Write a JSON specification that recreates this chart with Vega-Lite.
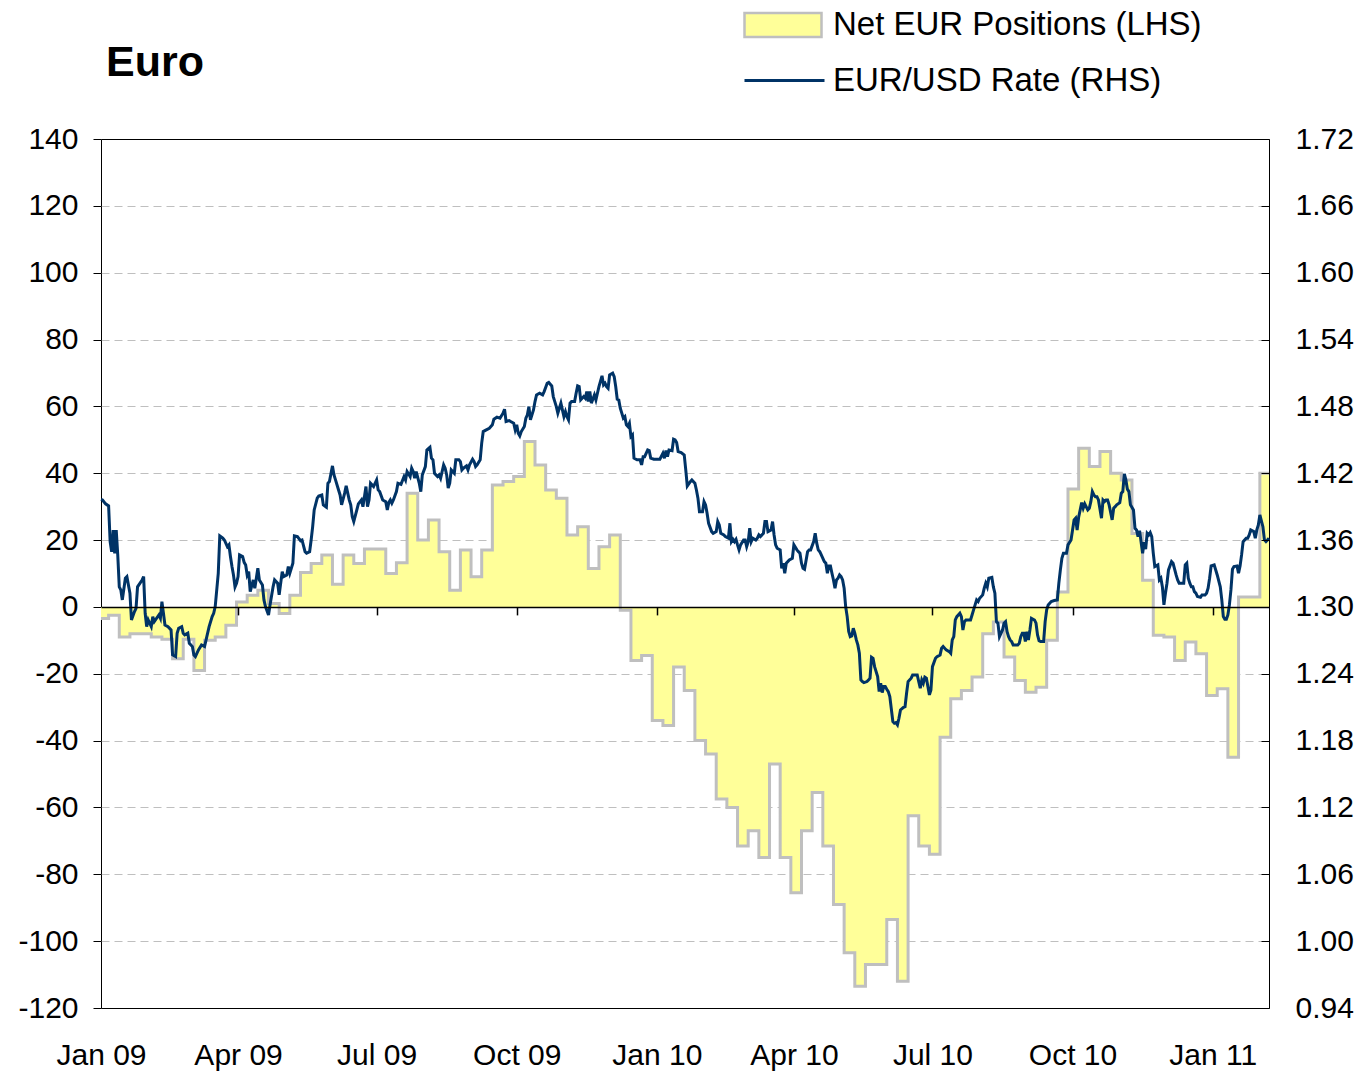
{
  "$schema": "https://vega.github.io/schema/vega-lite/v6.json",
  "width": 1168,
  "height": 869,
  "autosize": {"type": "none"},
  "padding": {"left": 101, "top": 139, "right": 92, "bottom": 63},
  "background": "#FFFFFF",
  "title": {"text": "Euro", "anchor": "start", "frame": "group", "font": "Liberation Sans", "fontSize": 43, "fontWeight": "bold", "color": "#000000", "dx": 5, "dy": 134, "offset": 0, "baseline": "alphabetic"},
  "config": {
    "font": "Liberation Sans",
    "view": {"stroke": "#000000", "strokeWidth": 1},
    "axis": {"labelFont": "Liberation Sans", "labelFontSize": 30, "labelColor": "#000000", "tickColor": "#000000", "domainColor": "#000000", "labelOverlap": false, "labelBound": false},
    "legend": {"labelFont": "Liberation Sans", "labelColor": "#000000"}
  },
  "datasets": {
    "pos": [
      {"date":"2009-01-01","net":-3.5},{"date":"2009-01-06","net":-2.5},{"date":"2009-01-13","net":-9},{"date":"2009-01-20","net":-8},{"date":"2009-01-27","net":-8},{"date":"2009-02-03","net":-9},{"date":"2009-02-10","net":-9.7},{"date":"2009-02-17","net":-15.5},{"date":"2009-02-24","net":-9.7},{"date":"2009-03-03","net":-19},{"date":"2009-03-10","net":-10},{"date":"2009-03-17","net":-9},{"date":"2009-03-24","net":-5.5},{"date":"2009-03-31","net":1.5},{"date":"2009-04-07","net":3.5},{"date":"2009-04-14","net":5},{"date":"2009-04-21","net":1},{"date":"2009-04-28","net":-2},{"date":"2009-05-05","net":3.5},{"date":"2009-05-12","net":10.3},{"date":"2009-05-19","net":13},{"date":"2009-05-26","net":15.5},{"date":"2009-06-02","net":6.8},{"date":"2009-06-09","net":15.5},{"date":"2009-06-16","net":13},{"date":"2009-06-23","net":17.3},{"date":"2009-06-30","net":17.3},{"date":"2009-07-07","net":10},{"date":"2009-07-14","net":13.2},{"date":"2009-07-21","net":34},{"date":"2009-07-28","net":20},{"date":"2009-08-04","net":26},{"date":"2009-08-11","net":16.5},{"date":"2009-08-18","net":5},{"date":"2009-08-25","net":17},{"date":"2009-09-01","net":9},{"date":"2009-09-08","net":17},{"date":"2009-09-15","net":36.5},{"date":"2009-09-22","net":37.5},{"date":"2009-09-29","net":39},{"date":"2009-10-06","net":49.5},{"date":"2009-10-13","net":42.5},{"date":"2009-10-20","net":35},{"date":"2009-10-27","net":32.5},{"date":"2009-11-03","net":21.5},{"date":"2009-11-10","net":24},{"date":"2009-11-17","net":11.5},{"date":"2009-11-24","net":18},{"date":"2009-12-01","net":21.5},{"date":"2009-12-08","net":-1},{"date":"2009-12-15","net":-16},{"date":"2009-12-22","net":-14.5},{"date":"2009-12-29","net":-34},{"date":"2010-01-05","net":-35.5},{"date":"2010-01-12","net":-18},{"date":"2010-01-19","net":-25},{"date":"2010-01-26","net":-40},{"date":"2010-02-02","net":-44},{"date":"2010-02-09","net":-57.5},{"date":"2010-02-16","net":-60},{"date":"2010-02-23","net":-71.5},{"date":"2010-03-02","net":-67},{"date":"2010-03-09","net":-75},{"date":"2010-03-16","net":-47},{"date":"2010-03-23","net":-75},{"date":"2010-03-30","net":-85.5},{"date":"2010-04-06","net":-67},{"date":"2010-04-13","net":-55.5},{"date":"2010-04-20","net":-71.5},{"date":"2010-04-27","net":-89},{"date":"2010-05-04","net":-103.5},{"date":"2010-05-11","net":-113.5},{"date":"2010-05-18","net":-107},{"date":"2010-05-25","net":-107},{"date":"2010-06-01","net":-93.5},{"date":"2010-06-08","net":-112},{"date":"2010-06-15","net":-62.5},{"date":"2010-06-22","net":-71.5},{"date":"2010-06-29","net":-74},{"date":"2010-07-06","net":-39},{"date":"2010-07-13","net":-27.5},{"date":"2010-07-20","net":-25},{"date":"2010-07-27","net":-21},{"date":"2010-08-03","net":-8},{"date":"2010-08-10","net":-4.5},{"date":"2010-08-17","net":-15},{"date":"2010-08-24","net":-22},{"date":"2010-08-31","net":-25.5},{"date":"2010-09-07","net":-24},{"date":"2010-09-14","net":-10},{"date":"2010-09-21","net":4.5},{"date":"2010-09-28","net":35.3},{"date":"2010-10-05","net":47.5},{"date":"2010-10-12","net":42},{"date":"2010-10-19","net":46.5},{"date":"2010-10-26","net":40},{"date":"2010-11-02","net":38},{"date":"2010-11-09","net":22},{"date":"2010-11-16","net":8},{"date":"2010-11-23","net":-8.5},{"date":"2010-11-30","net":-9},{"date":"2010-12-07","net":-16},{"date":"2010-12-14","net":-10.5},{"date":"2010-12-21","net":-14},{"date":"2010-12-28","net":-26.5},{"date":"2011-01-04","net":-24.5},{"date":"2011-01-11","net":-45},{"date":"2011-01-18","net":3},{"date":"2011-01-25","net":3},{"date":"2011-02-01","net":40},{"date":"2011-02-07","net":40}
    ],
    "fx": [
      {"date":"2009-01-01","rate":1.3965},{"date":"2009-01-02","rate":1.396},{"date":"2009-01-04","rate":1.3925},{"date":"2009-01-06","rate":1.3907},{"date":"2009-01-07","rate":1.3586},{"date":"2009-01-08","rate":1.3496},{"date":"2009-01-09","rate":1.369},{"date":"2009-01-10","rate":1.348},{"date":"2009-01-11","rate":1.369},{"date":"2009-01-12","rate":1.3467},{"date":"2009-01-13","rate":1.318},{"date":"2009-01-14","rate":1.3153},{"date":"2009-01-15","rate":1.3063},{"date":"2009-01-17","rate":1.3258},{"date":"2009-01-18","rate":1.3272},{"date":"2009-01-20","rate":1.3123},{"date":"2009-01-21","rate":1.2883},{"date":"2009-01-23","rate":1.2958},{"date":"2009-01-24","rate":1.2988},{"date":"2009-01-25","rate":1.318},{"date":"2009-01-28","rate":1.3242},{"date":"2009-01-29","rate":1.3272},{"date":"2009-01-30","rate":1.2943},{"date":"2009-01-31","rate":1.2823},{"date":"2009-02-01","rate":1.2883},{"date":"2009-02-03","rate":1.2823},{"date":"2009-02-04","rate":1.2913},{"date":"2009-02-05","rate":1.2868},{"date":"2009-02-08","rate":1.2928},{"date":"2009-02-09","rate":1.2898},{"date":"2009-02-10","rate":1.3048},{"date":"2009-02-11","rate":1.2943},{"date":"2009-02-12","rate":1.2838},{"date":"2009-02-14","rate":1.2823},{"date":"2009-02-16","rate":1.2793},{"date":"2009-02-17","rate":1.2569},{"date":"2009-02-19","rate":1.2554},{"date":"2009-02-20","rate":1.2764},{"date":"2009-02-21","rate":1.2809},{"date":"2009-02-23","rate":1.2823},{"date":"2009-02-24","rate":1.2764},{"date":"2009-02-25","rate":1.2749},{"date":"2009-02-27","rate":1.2764},{"date":"2009-02-28","rate":1.2674},{"date":"2009-03-02","rate":1.2644},{"date":"2009-03-03","rate":1.2569},{"date":"2009-03-04","rate":1.2554},{"date":"2009-03-06","rate":1.2614},{"date":"2009-03-08","rate":1.2659},{"date":"2009-03-10","rate":1.2644},{"date":"2009-03-11","rate":1.2704},{"date":"2009-03-13","rate":1.2823},{"date":"2009-03-15","rate":1.2913},{"date":"2009-03-16","rate":1.2943},{"date":"2009-03-17","rate":1.3003},{"date":"2009-03-19","rate":1.3302},{"date":"2009-03-20","rate":1.3637},{"date":"2009-03-22","rate":1.3617},{"date":"2009-03-23","rate":1.3601},{"date":"2009-03-25","rate":1.3541},{"date":"2009-03-26","rate":1.3557},{"date":"2009-03-27","rate":1.3452},{"date":"2009-03-28","rate":1.3362},{"date":"2009-03-29","rate":1.3287},{"date":"2009-03-30","rate":1.318},{"date":"2009-03-31","rate":1.3213},{"date":"2009-04-01","rate":1.3272},{"date":"2009-04-02","rate":1.3467},{"date":"2009-04-04","rate":1.3452},{"date":"2009-04-05","rate":1.34},{"date":"2009-04-06","rate":1.3377},{"date":"2009-04-07","rate":1.3287},{"date":"2009-04-08","rate":1.3317},{"date":"2009-04-09","rate":1.3137},{"date":"2009-04-11","rate":1.3242},{"date":"2009-04-12","rate":1.3167},{"date":"2009-04-14","rate":1.3347},{"date":"2009-04-15","rate":1.3242},{"date":"2009-04-17","rate":1.3197},{"date":"2009-04-18","rate":1.3063},{"date":"2009-04-19","rate":1.3003},{"date":"2009-04-21","rate":1.2928},{"date":"2009-04-22","rate":1.3018},{"date":"2009-04-24","rate":1.318},{"date":"2009-04-25","rate":1.3242},{"date":"2009-04-27","rate":1.3213},{"date":"2009-04-28","rate":1.3108},{"date":"2009-04-30","rate":1.3317},{"date":"2009-05-01","rate":1.3272},{"date":"2009-05-03","rate":1.3287},{"date":"2009-05-04","rate":1.3362},{"date":"2009-05-05","rate":1.3302},{"date":"2009-05-07","rate":1.3392},{"date":"2009-05-08","rate":1.3637},{"date":"2009-05-10","rate":1.3631},{"date":"2009-05-12","rate":1.3595},{"date":"2009-05-13","rate":1.3601},{"date":"2009-05-15","rate":1.3496},{"date":"2009-05-16","rate":1.3482},{"date":"2009-05-18","rate":1.3496},{"date":"2009-05-19","rate":1.3601},{"date":"2009-05-20","rate":1.3721},{"date":"2009-05-21","rate":1.3871},{"date":"2009-05-23","rate":1.3976},{"date":"2009-05-24","rate":1.3996},{"date":"2009-05-26","rate":1.4005},{"date":"2009-05-27","rate":1.3916},{"date":"2009-05-29","rate":1.3895},{"date":"2009-05-30","rate":1.411},{"date":"2009-05-31","rate":1.4125},{"date":"2009-06-02","rate":1.4266},{"date":"2009-06-03","rate":1.4185},{"date":"2009-06-04","rate":1.414},{"date":"2009-06-06","rate":1.405},{"date":"2009-06-07","rate":1.4005},{"date":"2009-06-08","rate":1.3916},{"date":"2009-06-10","rate":1.4021},{"date":"2009-06-11","rate":1.4086},{"date":"2009-06-13","rate":1.3961},{"date":"2009-06-14","rate":1.3916},{"date":"2009-06-15","rate":1.3811},{"date":"2009-06-16","rate":1.3766},{"date":"2009-06-18","rate":1.3871},{"date":"2009-06-19","rate":1.3925},{"date":"2009-06-21","rate":1.396},{"date":"2009-06-22","rate":1.39},{"date":"2009-06-24","rate":1.408},{"date":"2009-06-25","rate":1.39},{"date":"2009-06-26","rate":1.396},{"date":"2009-06-27","rate":1.411},{"date":"2009-06-29","rate":1.408},{"date":"2009-07-01","rate":1.414},{"date":"2009-07-02","rate":1.405},{"date":"2009-07-03","rate":1.4035},{"date":"2009-07-05","rate":1.396},{"date":"2009-07-07","rate":1.3945},{"date":"2009-07-08","rate":1.3871},{"date":"2009-07-09","rate":1.3936},{"date":"2009-07-10","rate":1.396},{"date":"2009-07-11","rate":1.3931},{"date":"2009-07-12","rate":1.396},{"date":"2009-07-14","rate":1.4035},{"date":"2009-07-15","rate":1.411},{"date":"2009-07-17","rate":1.41},{"date":"2009-07-19","rate":1.417},{"date":"2009-07-20","rate":1.414},{"date":"2009-07-21","rate":1.4215},{"date":"2009-07-23","rate":1.417},{"date":"2009-07-24","rate":1.4245},{"date":"2009-07-25","rate":1.4215},{"date":"2009-07-26","rate":1.4155},{"date":"2009-07-27","rate":1.4215},{"date":"2009-07-29","rate":1.411},{"date":"2009-07-30","rate":1.4035},{"date":"2009-07-31","rate":1.4185},{"date":"2009-08-02","rate":1.426},{"date":"2009-08-03","rate":1.4409},{"date":"2009-08-05","rate":1.4434},{"date":"2009-08-06","rate":1.4335},{"date":"2009-08-07","rate":1.432},{"date":"2009-08-08","rate":1.42},{"date":"2009-08-10","rate":1.417},{"date":"2009-08-11","rate":1.4185},{"date":"2009-08-12","rate":1.4155},{"date":"2009-08-14","rate":1.4275},{"date":"2009-08-15","rate":1.4245},{"date":"2009-08-16","rate":1.4185},{"date":"2009-08-17","rate":1.4066},{"date":"2009-08-18","rate":1.411},{"date":"2009-08-19","rate":1.423},{"date":"2009-08-21","rate":1.42},{"date":"2009-08-22","rate":1.432},{"date":"2009-08-24","rate":1.432},{"date":"2009-08-25","rate":1.4304},{"date":"2009-08-26","rate":1.423},{"date":"2009-08-27","rate":1.4245},{"date":"2009-08-29","rate":1.4266},{"date":"2009-08-30","rate":1.423},{"date":"2009-08-31","rate":1.4275},{"date":"2009-09-02","rate":1.4326},{"date":"2009-09-03","rate":1.4304},{"date":"2009-09-04","rate":1.426},{"date":"2009-09-05","rate":1.4275},{"date":"2009-09-07","rate":1.432},{"date":"2009-09-08","rate":1.447},{"date":"2009-09-09","rate":1.4574},{"date":"2009-09-11","rate":1.4589},{"date":"2009-09-13","rate":1.4604},{"date":"2009-09-15","rate":1.4634},{"date":"2009-09-16","rate":1.4685},{"date":"2009-09-18","rate":1.4703},{"date":"2009-09-20","rate":1.4694},{"date":"2009-09-22","rate":1.4739},{"date":"2009-09-23","rate":1.4775},{"date":"2009-09-24","rate":1.4664},{"date":"2009-09-26","rate":1.4673},{"date":"2009-09-27","rate":1.4664},{"date":"2009-09-29","rate":1.4649},{"date":"2009-09-30","rate":1.4589},{"date":"2009-10-01","rate":1.4634},{"date":"2009-10-02","rate":1.4559},{"date":"2009-10-03","rate":1.4535},{"date":"2009-10-04","rate":1.4574},{"date":"2009-10-06","rate":1.4619},{"date":"2009-10-07","rate":1.4694},{"date":"2009-10-08","rate":1.4724},{"date":"2009-10-09","rate":1.4798},{"date":"2009-10-10","rate":1.4679},{"date":"2009-10-11","rate":1.4724},{"date":"2009-10-12","rate":1.4768},{"date":"2009-10-13","rate":1.4843},{"date":"2009-10-14","rate":1.4903},{"date":"2009-10-16","rate":1.4918},{"date":"2009-10-18","rate":1.4903},{"date":"2009-10-19","rate":1.4933},{"date":"2009-10-21","rate":1.5008},{"date":"2009-10-22","rate":1.5015},{"date":"2009-10-24","rate":1.4984},{"date":"2009-10-25","rate":1.4888},{"date":"2009-10-26","rate":1.4843},{"date":"2009-10-27","rate":1.4798},{"date":"2009-10-28","rate":1.4739},{"date":"2009-10-30","rate":1.4829},{"date":"2009-10-31","rate":1.4768},{"date":"2009-11-01","rate":1.4708},{"date":"2009-11-02","rate":1.4753},{"date":"2009-11-03","rate":1.4708},{"date":"2009-11-04","rate":1.4679},{"date":"2009-11-05","rate":1.4829},{"date":"2009-11-06","rate":1.4843},{"date":"2009-11-08","rate":1.4843},{"date":"2009-11-09","rate":1.4918},{"date":"2009-11-10","rate":1.4984},{"date":"2009-11-11","rate":1.4978},{"date":"2009-11-12","rate":1.4858},{"date":"2009-11-14","rate":1.4888},{"date":"2009-11-15","rate":1.4873},{"date":"2009-11-16","rate":1.4933},{"date":"2009-11-17","rate":1.4843},{"date":"2009-11-18","rate":1.4933},{"date":"2009-11-19","rate":1.4829},{"date":"2009-11-21","rate":1.4903},{"date":"2009-11-22","rate":1.4858},{"date":"2009-11-23","rate":1.4918},{"date":"2009-11-24","rate":1.4978},{"date":"2009-11-26","rate":1.5074},{"date":"2009-11-27","rate":1.4993},{"date":"2009-11-28","rate":1.5008},{"date":"2009-11-29","rate":1.4978},{"date":"2009-11-30","rate":1.4963},{"date":"2009-12-01","rate":1.5083},{"date":"2009-12-03","rate":1.5098},{"date":"2009-12-04","rate":1.5067},{"date":"2009-12-05","rate":1.4978},{"date":"2009-12-06","rate":1.4864},{"date":"2009-12-07","rate":1.4858},{"date":"2009-12-08","rate":1.4784},{"date":"2009-12-10","rate":1.4694},{"date":"2009-12-11","rate":1.4708},{"date":"2009-12-12","rate":1.4634},{"date":"2009-12-13","rate":1.4619},{"date":"2009-12-14","rate":1.4649},{"date":"2009-12-15","rate":1.4529},{"date":"2009-12-16","rate":1.4544},{"date":"2009-12-17","rate":1.4335},{"date":"2009-12-19","rate":1.432},{"date":"2009-12-21","rate":1.432},{"date":"2009-12-22","rate":1.4275},{"date":"2009-12-23","rate":1.4349},{"date":"2009-12-24","rate":1.4349},{"date":"2009-12-26","rate":1.4409},{"date":"2009-12-27","rate":1.4403},{"date":"2009-12-28","rate":1.4335},{"date":"2009-12-30","rate":1.4326},{"date":"2010-01-01","rate":1.4326},{"date":"2010-01-03","rate":1.4326},{"date":"2010-01-05","rate":1.438},{"date":"2010-01-06","rate":1.4335},{"date":"2010-01-07","rate":1.4403},{"date":"2010-01-08","rate":1.4349},{"date":"2010-01-09","rate":1.4409},{"date":"2010-01-11","rate":1.4403},{"date":"2010-01-12","rate":1.4505},{"date":"2010-01-13","rate":1.4499},{"date":"2010-01-14","rate":1.4475},{"date":"2010-01-15","rate":1.4394},{"date":"2010-01-17","rate":1.4385},{"date":"2010-01-19","rate":1.4364},{"date":"2010-01-20","rate":1.423},{"date":"2010-01-21","rate":1.4086},{"date":"2010-01-23","rate":1.4125},{"date":"2010-01-24","rate":1.414},{"date":"2010-01-26","rate":1.411},{"date":"2010-01-27","rate":1.405},{"date":"2010-01-28","rate":1.3976},{"date":"2010-01-29","rate":1.3855},{"date":"2010-01-31","rate":1.3855},{"date":"2010-02-01","rate":1.3945},{"date":"2010-02-02","rate":1.3916},{"date":"2010-02-03","rate":1.3841},{"date":"2010-02-04","rate":1.3751},{"date":"2010-02-06","rate":1.3676},{"date":"2010-02-07","rate":1.3661},{"date":"2010-02-09","rate":1.3676},{"date":"2010-02-10","rate":1.3766},{"date":"2010-02-11","rate":1.3736},{"date":"2010-02-12","rate":1.3661},{"date":"2010-02-14","rate":1.3646},{"date":"2010-02-15","rate":1.3631},{"date":"2010-02-17","rate":1.3617},{"date":"2010-02-18","rate":1.3751},{"date":"2010-02-19","rate":1.3586},{"date":"2010-02-20","rate":1.3607},{"date":"2010-02-21","rate":1.3586},{"date":"2010-02-22","rate":1.3607},{"date":"2010-02-23","rate":1.3557},{"date":"2010-02-24","rate":1.3512},{"date":"2010-02-25","rate":1.3557},{"date":"2010-02-27","rate":1.3601},{"date":"2010-02-28","rate":1.3601},{"date":"2010-03-01","rate":1.3541},{"date":"2010-03-02","rate":1.3586},{"date":"2010-03-03","rate":1.3706},{"date":"2010-03-04","rate":1.3586},{"date":"2010-03-05","rate":1.3617},{"date":"2010-03-07","rate":1.3601},{"date":"2010-03-08","rate":1.3617},{"date":"2010-03-09","rate":1.3646},{"date":"2010-03-10","rate":1.3631},{"date":"2010-03-12","rate":1.3661},{"date":"2010-03-13","rate":1.3766},{"date":"2010-03-14","rate":1.3766},{"date":"2010-03-15","rate":1.3676},{"date":"2010-03-17","rate":1.3691},{"date":"2010-03-18","rate":1.3766},{"date":"2010-03-19","rate":1.3646},{"date":"2010-03-20","rate":1.3557},{"date":"2010-03-21","rate":1.3527},{"date":"2010-03-23","rate":1.3512},{"date":"2010-03-24","rate":1.3347},{"date":"2010-03-25","rate":1.3392},{"date":"2010-03-26","rate":1.3302},{"date":"2010-03-27","rate":1.3392},{"date":"2010-03-29","rate":1.3422},{"date":"2010-03-31","rate":1.3437},{"date":"2010-04-01","rate":1.3557},{"date":"2010-04-03","rate":1.3512},{"date":"2010-04-04","rate":1.3496},{"date":"2010-04-05","rate":1.3482},{"date":"2010-04-06","rate":1.3392},{"date":"2010-04-07","rate":1.3347},{"date":"2010-04-08","rate":1.3338},{"date":"2010-04-10","rate":1.3496},{"date":"2010-04-11","rate":1.3512},{"date":"2010-04-12","rate":1.3512},{"date":"2010-04-14","rate":1.3586},{"date":"2010-04-15","rate":1.3661},{"date":"2010-04-16","rate":1.3572},{"date":"2010-04-17","rate":1.3512},{"date":"2010-04-18","rate":1.3496},{"date":"2010-04-19","rate":1.3467},{"date":"2010-04-21","rate":1.3407},{"date":"2010-04-22","rate":1.3392},{"date":"2010-04-23","rate":1.3302},{"date":"2010-04-24","rate":1.3368},{"date":"2010-04-25","rate":1.3368},{"date":"2010-04-26","rate":1.3302},{"date":"2010-04-27","rate":1.3242},{"date":"2010-04-28","rate":1.3167},{"date":"2010-04-29","rate":1.3242},{"date":"2010-04-30","rate":1.3258},{"date":"2010-05-01","rate":1.3287},{"date":"2010-05-02","rate":1.3272},{"date":"2010-05-03","rate":1.3242},{"date":"2010-05-04","rate":1.3167},{"date":"2010-05-05","rate":1.3003},{"date":"2010-05-06","rate":1.2913},{"date":"2010-05-07","rate":1.278},{"date":"2010-05-08","rate":1.2733},{"date":"2010-05-09","rate":1.274},{"date":"2010-05-10","rate":1.2809},{"date":"2010-05-11","rate":1.2764},{"date":"2010-05-12","rate":1.2704},{"date":"2010-05-13","rate":1.2659},{"date":"2010-05-14","rate":1.2584},{"date":"2010-05-15","rate":1.2345},{"date":"2010-05-16","rate":1.233},{"date":"2010-05-17","rate":1.2321},{"date":"2010-05-19","rate":1.233},{"date":"2010-05-20","rate":1.2345},{"date":"2010-05-21","rate":1.236},{"date":"2010-05-22","rate":1.2548},{"date":"2010-05-23","rate":1.2539},{"date":"2010-05-24","rate":1.2464},{"date":"2010-05-26","rate":1.2374},{"date":"2010-05-27","rate":1.224},{"date":"2010-05-28","rate":1.2315},{"date":"2010-05-29","rate":1.2231},{"date":"2010-05-30","rate":1.2285},{"date":"2010-05-31","rate":1.2285},{"date":"2010-06-01","rate":1.2261},{"date":"2010-06-02","rate":1.224},{"date":"2010-06-03","rate":1.2195},{"date":"2010-06-05","rate":1.197},{"date":"2010-06-06","rate":1.1956},{"date":"2010-06-07","rate":1.1961},{"date":"2010-06-08","rate":1.1941},{"date":"2010-06-09","rate":1.2001},{"date":"2010-06-10","rate":1.2075},{"date":"2010-06-12","rate":1.2099},{"date":"2010-06-13","rate":1.2105},{"date":"2010-06-14","rate":1.2225},{"date":"2010-06-15","rate":1.233},{"date":"2010-06-17","rate":1.236},{"date":"2010-06-18","rate":1.239},{"date":"2010-06-20","rate":1.239},{"date":"2010-06-21","rate":1.239},{"date":"2010-06-22","rate":1.233},{"date":"2010-06-23","rate":1.227},{"date":"2010-06-24","rate":1.2345},{"date":"2010-06-25","rate":1.2315},{"date":"2010-06-26","rate":1.2369},{"date":"2010-06-27","rate":1.236},{"date":"2010-06-28","rate":1.2285},{"date":"2010-06-29","rate":1.221},{"date":"2010-06-30","rate":1.2255},{"date":"2010-07-01","rate":1.2464},{"date":"2010-07-03","rate":1.2539},{"date":"2010-07-04","rate":1.2554},{"date":"2010-07-06","rate":1.2569},{"date":"2010-07-07","rate":1.2629},{"date":"2010-07-08","rate":1.2644},{"date":"2010-07-10","rate":1.2614},{"date":"2010-07-12","rate":1.2599},{"date":"2010-07-13","rate":1.2584},{"date":"2010-07-14","rate":1.2704},{"date":"2010-07-15","rate":1.2733},{"date":"2010-07-16","rate":1.2883},{"date":"2010-07-17","rate":1.2913},{"date":"2010-07-19","rate":1.2943},{"date":"2010-07-20","rate":1.2913},{"date":"2010-07-21","rate":1.2793},{"date":"2010-07-22","rate":1.2868},{"date":"2010-07-23","rate":1.2883},{"date":"2010-07-24","rate":1.2883},{"date":"2010-07-26","rate":1.2883},{"date":"2010-07-27","rate":1.2928},{"date":"2010-07-28","rate":1.2973},{"date":"2010-07-29","rate":1.3018},{"date":"2010-07-30","rate":1.3063},{"date":"2010-07-31","rate":1.3048},{"date":"2010-08-01","rate":1.3078},{"date":"2010-08-03","rate":1.3108},{"date":"2010-08-04","rate":1.3168},{"date":"2010-08-05","rate":1.3213},{"date":"2010-08-06","rate":1.318},{"date":"2010-08-07","rate":1.3258},{"date":"2010-08-09","rate":1.3265},{"date":"2010-08-10","rate":1.318},{"date":"2010-08-11","rate":1.3123},{"date":"2010-08-12","rate":1.2868},{"date":"2010-08-13","rate":1.2854},{"date":"2010-08-14","rate":1.2733},{"date":"2010-08-16","rate":1.2793},{"date":"2010-08-17","rate":1.2854},{"date":"2010-08-18","rate":1.2868},{"date":"2010-08-19","rate":1.2778},{"date":"2010-08-20","rate":1.2733},{"date":"2010-08-21","rate":1.2704},{"date":"2010-08-22","rate":1.2689},{"date":"2010-08-23","rate":1.2659},{"date":"2010-08-26","rate":1.2659},{"date":"2010-08-27","rate":1.2674},{"date":"2010-08-28","rate":1.2733},{"date":"2010-08-29","rate":1.2764},{"date":"2010-08-30","rate":1.2764},{"date":"2010-08-31","rate":1.2689},{"date":"2010-09-01","rate":1.2778},{"date":"2010-09-02","rate":1.2704},{"date":"2010-09-03","rate":1.2793},{"date":"2010-09-04","rate":1.2898},{"date":"2010-09-06","rate":1.2883},{"date":"2010-09-07","rate":1.2854},{"date":"2010-09-08","rate":1.2749},{"date":"2010-09-09","rate":1.2697},{"date":"2010-09-10","rate":1.2689},{"date":"2010-09-12","rate":1.2689},{"date":"2010-09-13","rate":1.2868},{"date":"2010-09-14","rate":1.2973},{"date":"2010-09-15","rate":1.3018},{"date":"2010-09-17","rate":1.3048},{"date":"2010-09-19","rate":1.3057},{"date":"2010-09-21","rate":1.3063},{"date":"2010-09-22","rate":1.3213},{"date":"2010-09-23","rate":1.3332},{"date":"2010-09-24","rate":1.3437},{"date":"2010-09-25","rate":1.3482},{"date":"2010-09-27","rate":1.3482},{"date":"2010-09-28","rate":1.3557},{"date":"2010-09-30","rate":1.3601},{"date":"2010-10-01","rate":1.369},{"date":"2010-10-02","rate":1.3781},{"date":"2010-10-03","rate":1.3796},{"date":"2010-10-04","rate":1.369},{"date":"2010-10-05","rate":1.3805},{"date":"2010-10-07","rate":1.3936},{"date":"2010-10-08","rate":1.3886},{"date":"2010-10-09","rate":1.3925},{"date":"2010-10-11","rate":1.3871},{"date":"2010-10-12","rate":1.3886},{"date":"2010-10-13","rate":1.3945},{"date":"2010-10-14","rate":1.4035},{"date":"2010-10-15","rate":1.4005},{"date":"2010-10-16","rate":1.399},{"date":"2010-10-17","rate":1.399},{"date":"2010-10-18","rate":1.396},{"date":"2010-10-20","rate":1.3796},{"date":"2010-10-21","rate":1.396},{"date":"2010-10-22","rate":1.3945},{"date":"2010-10-23","rate":1.396},{"date":"2010-10-24","rate":1.396},{"date":"2010-10-25","rate":1.3916},{"date":"2010-10-27","rate":1.3781},{"date":"2010-10-28","rate":1.3886},{"date":"2010-10-29","rate":1.39},{"date":"2010-10-30","rate":1.3916},{"date":"2010-11-01","rate":1.3936},{"date":"2010-11-02","rate":1.402},{"date":"2010-11-03","rate":1.4035},{"date":"2010-11-04","rate":1.4194},{"date":"2010-11-05","rate":1.414},{"date":"2010-11-06","rate":1.4057},{"date":"2010-11-07","rate":1.4035},{"date":"2010-11-08","rate":1.3916},{"date":"2010-11-10","rate":1.3871},{"date":"2010-11-11","rate":1.3706},{"date":"2010-11-12","rate":1.3691},{"date":"2010-11-13","rate":1.3631},{"date":"2010-11-14","rate":1.3685},{"date":"2010-11-16","rate":1.3482},{"date":"2010-11-17","rate":1.358},{"date":"2010-11-18","rate":1.3518},{"date":"2010-11-19","rate":1.3661},{"date":"2010-11-20","rate":1.3646},{"date":"2010-11-21","rate":1.3667},{"date":"2010-11-22","rate":1.3631},{"date":"2010-11-23","rate":1.3482},{"date":"2010-11-24","rate":1.3362},{"date":"2010-11-26","rate":1.3377},{"date":"2010-11-27","rate":1.3242},{"date":"2010-11-28","rate":1.3258},{"date":"2010-11-29","rate":1.318},{"date":"2010-11-30","rate":1.3018},{"date":"2010-12-01","rate":1.3123},{"date":"2010-12-02","rate":1.3213},{"date":"2010-12-03","rate":1.3332},{"date":"2010-12-05","rate":1.3407},{"date":"2010-12-06","rate":1.3392},{"date":"2010-12-08","rate":1.3287},{"date":"2010-12-09","rate":1.3242},{"date":"2010-12-10","rate":1.3213},{"date":"2010-12-12","rate":1.3213},{"date":"2010-12-13","rate":1.3213},{"date":"2010-12-14","rate":1.3377},{"date":"2010-12-15","rate":1.3392},{"date":"2010-12-16","rate":1.3258},{"date":"2010-12-17","rate":1.3213},{"date":"2010-12-18","rate":1.318},{"date":"2010-12-19","rate":1.318},{"date":"2010-12-20","rate":1.3137},{"date":"2010-12-21","rate":1.3123},{"date":"2010-12-22","rate":1.3093},{"date":"2010-12-24","rate":1.3087},{"date":"2010-12-25","rate":1.3108},{"date":"2010-12-27","rate":1.3108},{"date":"2010-12-28","rate":1.3123},{"date":"2010-12-29","rate":1.3168},{"date":"2010-12-30","rate":1.3258},{"date":"2010-12-31","rate":1.3368},{"date":"2011-01-02","rate":1.3377},{"date":"2011-01-04","rate":1.3287},{"date":"2011-01-06","rate":1.318},{"date":"2011-01-07","rate":1.3063},{"date":"2011-01-08","rate":1.2913},{"date":"2011-01-09","rate":1.289},{"date":"2011-01-10","rate":1.289},{"date":"2011-01-11","rate":1.2928},{"date":"2011-01-12","rate":1.3018},{"date":"2011-01-13","rate":1.3153},{"date":"2011-01-14","rate":1.3338},{"date":"2011-01-15","rate":1.3362},{"date":"2011-01-17","rate":1.3368},{"date":"2011-01-18","rate":1.3302},{"date":"2011-01-19","rate":1.3368},{"date":"2011-01-20","rate":1.3467},{"date":"2011-01-21","rate":1.3586},{"date":"2011-01-23","rate":1.3617},{"date":"2011-01-24","rate":1.3617},{"date":"2011-01-25","rate":1.3646},{"date":"2011-01-26","rate":1.3691},{"date":"2011-01-28","rate":1.3676},{"date":"2011-01-29","rate":1.3617},{"date":"2011-01-30","rate":1.3691},{"date":"2011-01-31","rate":1.3736},{"date":"2011-02-01","rate":1.3826},{"date":"2011-02-03","rate":1.372},{"date":"2011-02-04","rate":1.3601},{"date":"2011-02-05","rate":1.3586},{"date":"2011-02-06","rate":1.3601},{"date":"2011-02-07","rate":1.3617}
    ]
  },
  "layer": [
    {
      "data": {"name": "pos"},
      "encoding": {
        "x": {
          "field": "date", "type": "temporal",
          "scale": {"type": "utc", "domain": [{"year": 2009, "month": 1, "date": 1, "utc": true}, {"year": 2011, "month": 2, "date": 7, "utc": true}]},
          "axis": {
            "orient": "bottom", "title": null, "format": "%b %y",
            "values": [{"year": 2009, "month": 1, "date": 1, "utc": true}, {"year": 2009, "month": 4, "date": 1, "utc": true}, {"year": 2009, "month": 7, "date": 1, "utc": true}, {"year": 2009, "month": 10, "date": 1, "utc": true}, {"year": 2010, "month": 1, "date": 1, "utc": true}, {"year": 2010, "month": 4, "date": 1, "utc": true}, {"year": 2010, "month": 7, "date": 1, "utc": true}, {"year": 2010, "month": 10, "date": 1, "utc": true}, {"year": 2011, "month": 1, "date": 1, "utc": true}],
            "labelFlush": false, "labelAlign": "center", "labelBaseline": "top", "labelPadding": 32,
            "ticks": false, "domain": false, "grid": false
          }
        },
        "y": {
          "field": "net", "type": "quantitative",
          "scale": {"domain": [-120, 140], "nice": false, "zero": true},
          "axis": {
            "orient": "left", "title": null,
            "values": [-120, -100, -80, -60, -40, -20, 0, 20, 40, 60, 80, 100, 120, 140],
            "labelExpr": "'' + datum.value",
            "tickSize": 8, "tickWidth": 1, "labelPadding": 15, "domain": false,
            "grid": true, "gridColor": "#BFBFBF", "gridDash": [8, 5], "gridWidth": 1,
            "gridOpacity": {"condition": {"test": "datum.value == 140 || datum.value == -120 || datum.value == 0", "value": 0}, "value": 1}
          }
        }
      },
      "layer": [
        {
          "mark": {"type": "area", "interpolate": "step-after"},
          "encoding": {
            "fill": {
              "datum": "Net EUR Positions (LHS)", "type": "nominal",
              "scale": {"range": ["#FFFF99"]},
              "legend": {
                "orient": "none", "legendX": 642, "legendY": -154, "title": null, "padding": 0,
                "symbolType": "M-1,-0.31H1V0.31H-1Z", "symbolSize": 5929,
                "symbolFillColor": "#FFFF99", "symbolStrokeColor": "#BFBFBF", "symbolStrokeWidth": 2.5,
                "labelFontSize": 33, "labelOffset": 10, "labelLimit": 0,
                "encode": {"symbols": {"update": {"stroke": {"value": "#BFBFBF"}, "strokeWidth": {"value": 2.5}}}}
              }
            }
          }
        },
        {
          "mark": {"type": "line", "interpolate": "step-after", "color": "#BFBFBF", "strokeWidth": 3}
        }
      ]
    },
    {
      "data": {"name": "fx"},
      "mark": {"type": "line", "strokeWidth": 3},
      "encoding": {
        "x": {
          "field": "date", "type": "temporal",
          "scale": {"type": "utc", "domain": [{"year": 2009, "month": 1, "date": 1, "utc": true}, {"year": 2011, "month": 2, "date": 7, "utc": true}]},
          "axis": {
            "orient": "bottom", "title": null, "offset": -401.1,
            "values": [{"year": 2009, "month": 4, "date": 1, "utc": true}, {"year": 2009, "month": 7, "date": 1, "utc": true}, {"year": 2009, "month": 10, "date": 1, "utc": true}, {"year": 2010, "month": 1, "date": 1, "utc": true}, {"year": 2010, "month": 4, "date": 1, "utc": true}, {"year": 2010, "month": 7, "date": 1, "utc": true}, {"year": 2010, "month": 10, "date": 1, "utc": true}, {"year": 2011, "month": 1, "date": 1, "utc": true}],
            "labels": false, "ticks": true, "tickSize": 8, "tickWidth": 1.5, "tickColor": "#000000",
            "domain": true, "domainWidth": 1.5, "domainColor": "#000000", "grid": false, "zindex": 1
          }
        },
        "y": {
          "field": "rate", "type": "quantitative",
          "scale": {"domain": [0.94, 1.72], "nice": false, "zero": false},
          "axis": {
            "orient": "right", "title": null,
            "values": [0.94, 1.0, 1.06, 1.12, 1.18, 1.24, 1.3, 1.36, 1.42, 1.48, 1.54, 1.6, 1.66, 1.72],
            "format": ".2f", "tickSize": -8, "labelPadding": 34, "domain": false, "grid": false, "zindex": 1
          }
        },
        "stroke": {
          "datum": "EUR/USD Rate (RHS)", "type": "nominal",
          "scale": {"range": ["#003366"]},
          "legend": {
            "orient": "none", "legendX": 642, "legendY": -100, "title": null, "padding": 0,
            "symbolType": "stroke", "symbolSize": 6400, "symbolStrokeWidth": 3,
            "labelFontSize": 33, "labelOffset": 7, "labelLimit": 0
          }
        }
      }
    }
  ],
  "resolve": {"scale": {"y": "independent"}, "axis": {"x": "independent"}}
}
